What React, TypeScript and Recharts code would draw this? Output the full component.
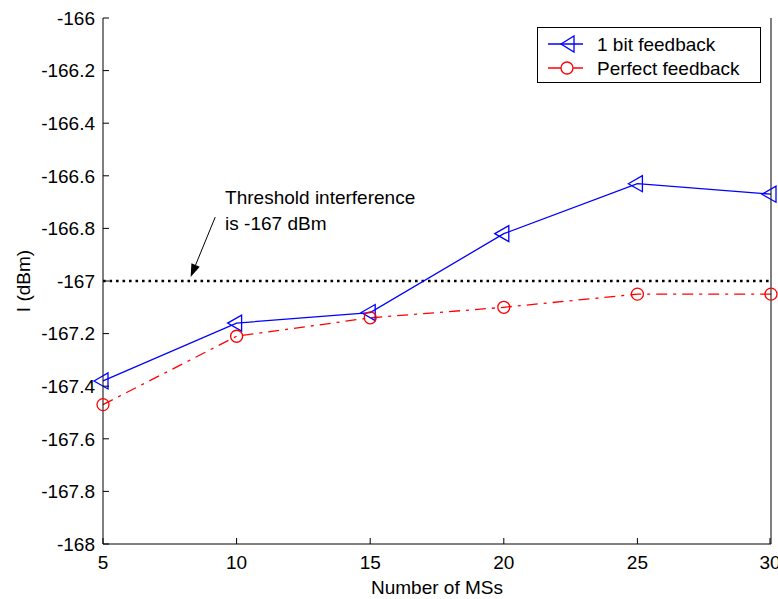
import React from "react";
import {
  LineChart,
  Line,
  XAxis,
  YAxis,
  ReferenceLine,
  ReferenceDot,
  Legend,
} from "recharts";

const msCounts = [5, 10, 15, 20, 25, 30];
const oneBit = [-167.38, -167.16, -167.12, -166.82, -166.63, -166.67];
const perfect = [-167.47, -167.21, -167.14, -167.1, -167.05, -167.05];
const xTicks = [5, 10, 15, 20, 25, 30];
const yTicks = [-168, -167.8, -167.6, -167.4, -167.2, -167, -166.8, -166.6, -166.4, -166.2, -166];
const threshold = -167;
const noteLines = ["Threshold interference", "is -167 dBm"];
const noteAt = { x: 9.57, y: -166.707 };
const arrow = [
  { x: 9.2, y: -166.757 },
  { x: 8.28, y: -166.985 },
];

const data = msCounts.map((ms, i) => ({ ms, oneBit: oneBit[i], perfect: perfect[i] }));

const FONT = "'Liberation Sans', Arial, sans-serif";
const FS = 19;
const TICK = 6;

const fmt = (v: number) => String(Number(v.toFixed(1)));

const LeftTick = (p: any) => (
  <g>
    <line x1={p.x + 8} x2={p.x + 8 + TICK} y1={p.y} y2={p.y} stroke="#000" />
    <text x={p.x} y={p.y} dy="0.36em" textAnchor="end" fontSize={FS} fontFamily={FONT} fill="#000">
      {fmt(p.payload.value)}
    </text>
  </g>
);

const BottomTick = (p: any) => (
  <g>
    <line x1={p.x} x2={p.x} y1={p.y - 11} y2={p.y - 11 - TICK} stroke="#000" />
    <text x={p.x} y={p.y} dy="0.72em" textAnchor="middle" fontSize={FS} fontFamily={FONT} fill="#000">
      {p.payload.value}
    </text>
  </g>
);

const TopTick = (p: any) => (
  <line x1={p.x} x2={p.x} y1={p.y} y2={p.y + TICK} stroke="#000" />
);

const RightTick = (p: any) => (
  <line x1={p.x} x2={p.x - TICK} y1={p.y} y2={p.y} stroke="#000" />
);

const Triangle = (p: any) => {
  const { cx, cy } = p;
  if (cx == null || cy == null) return <g key={p.index} />;
  return (
    <polygon
      key={p.index}
      points={`${cx - 9},${cy} ${cx + 5},${cy - 8} ${cx + 5},${cy + 8}`}
      fill="none"
      stroke="#0000ff"
      strokeWidth={1.3}
    />
  );
};

const Circle = (p: any) => {
  const { cx, cy } = p;
  if (cx == null || cy == null) return <g key={p.index} />;
  return <circle key={p.index} cx={cx} cy={cy} r={6} fill="none" stroke="#ff0000" strokeWidth={1.3} />;
};

const LegendBox = () => (
  <div
    style={{
      width: 222,
      height: 54,
      border: "1px solid #000",
      background: "#fff",
      fontFamily: FONT,
      fontSize: FS,
      position: "relative",
    }}
  >
    <svg width={222} height={54} style={{ position: "absolute", left: 0, top: 0 }}>
      <line x1={10} x2={45} y1={16} y2={16} stroke="#0000ff" strokeWidth={1.3} />
      <polygon points="23,16 36,8 36,24" fill="none" stroke="#0000ff" strokeWidth={1.3} />
      <line x1={10} x2={45} y1={40} y2={40} stroke="#ff0000" strokeWidth={1.3} />
      <circle cx={29} cy={40} r={6} fill="#fff" stroke="#ff0000" strokeWidth={1.3} />
      <text x={59} y={16} dy="0.36em" fontSize={FS} fontFamily={FONT} fill="#000">
        1 bit feedback
      </text>
      <text x={59} y={40} dy="0.36em" fontSize={FS} fontFamily={FONT} fill="#000">
        Perfect feedback
      </text>
    </svg>
  </div>
);

const ArrowShape = (p: any) => {
  const { x1, y1, x2, y2 } = p;
  if (x1 == null) return <g />;
  const ang = Math.atan2(y2 - y1, x2 - x1);
  const L = 13;
  const W = 4.5;
  const bx = x2 - L * Math.cos(ang);
  const by = y2 - L * Math.sin(ang);
  const nx = -Math.sin(ang) * W;
  const ny = Math.cos(ang) * W;
  return (
    <g>
      <line x1={x1} y1={y1} x2={bx} y2={by} stroke="#000" strokeWidth={1} />
      <polygon points={`${x2},${y2} ${bx + nx},${by + ny} ${bx - nx},${by - ny}`} fill="#000" />
    </g>
  );
};

const NoteShape = (p: any) => (
  <text x={p.cx} y={p.cy} fontSize={FS} fontFamily={FONT} fill="#000">
    {noteLines.map((t, i) => (
      <tspan key={i} x={p.cx} dy={i === 0 ? 0 : 26}>
        {t}
      </tspan>
    ))}
  </text>
);

export default function App() {
  return (
    <div style={{ position: "absolute", left: 0, top: 0, width: 778, height: 599, background: "#fff" }}>
      <LineChart width={778} height={599} data={data} margin={{ top: 18, right: 0, bottom: 0, left: 0 }}>
        <XAxis
          dataKey="ms"
          type="number"
          domain={[5, 30]}
          ticks={xTicks}
          height={55}
          stroke="#000"
          tickSize={0}
          tickMargin={11}
          tick={<BottomTick />}
          label={{
            content: (lp: any) => (
              <text
                x={lp.viewBox.x + lp.viewBox.width / 2}
                y={594}
                textAnchor="middle"
                fontSize={FS}
                fontFamily={FONT}
                fill="#000"
              >
                Number of MSs
              </text>
            ),
          }}
        />
        <XAxis
          xAxisId="top"
          dataKey="ms"
          type="number"
          orientation="top"
          domain={[5, 30]}
          ticks={xTicks}
          height={0}
          stroke="#000"
          tickSize={0}
          tickMargin={0}
          tick={<TopTick />}
        />
        <YAxis
          type="number"
          domain={[-168, -166]}
          ticks={yTicks}
          width={103}
          stroke="#000"
          tickSize={0}
          tickMargin={8}
          tick={<LeftTick />}
          interval={0}
          label={{
            content: (lp: any) => {
              const cy = lp.viewBox.y + lp.viewBox.height / 2;
              return (
                <text
                  x={30}
                  y={cy}
                  transform={`rotate(-90 30 ${cy})`}
                  textAnchor="middle"
                  fontSize={FS}
                  fontFamily={FONT}
                  fill="#000"
                >
                  I (dBm)
                </text>
              );
            },
          }}
        />
        <YAxis
          yAxisId="right"
          orientation="right"
          type="number"
          domain={[-168, -166]}
          ticks={yTicks}
          width={7}
          stroke="#000"
          tickSize={0}
          tickMargin={0}
          tick={<RightTick />}
          interval={0}
        />
        <ReferenceLine
          y={threshold}
          stroke="#000"
          strokeWidth={2.6}
          strokeDasharray="2.6 3.9"
        />
        <ReferenceLine segment={arrow} shape={<ArrowShape />} />
        <ReferenceDot x={noteAt.x} y={noteAt.y} r={0} shape={<NoteShape />} />
        <Line
          dataKey="oneBit"
          stroke="#0000ff"
          strokeWidth={1.3}
          dot={<Triangle />}
          isAnimationActive={false}
        />
        <Line
          dataKey="perfect"
          stroke="#ff0000"
          strokeWidth={1.3}
          strokeDasharray="11 6 3 6"
          dot={<Circle />}
          isAnimationActive={false}
        />
        <Legend
          layout="vertical"
          align="center"
          verticalAlign="middle"
          content={<LegendBox />}
          wrapperStyle={{ position: "absolute", left: 537, top: 27, width: 224, height: 56 }}
        />
      </LineChart>
    </div>
  );
}
